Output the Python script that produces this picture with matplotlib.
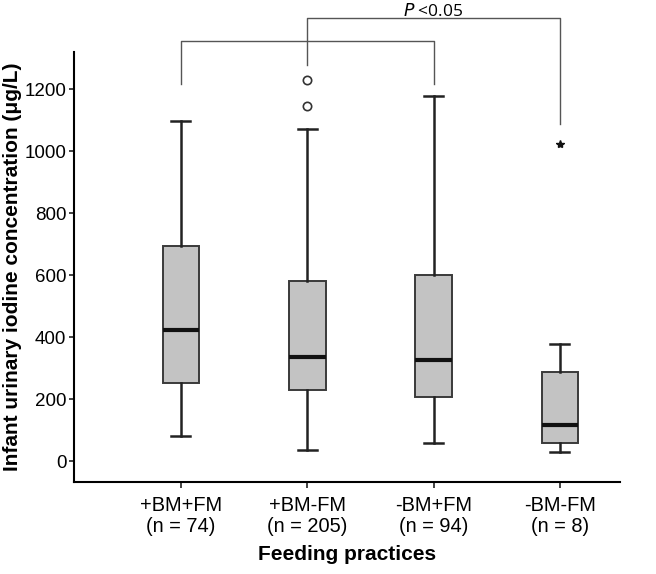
import matplotlib
matplotlib.use("Agg")
import matplotlib.pyplot as plt

# ── Datos ────────────────────────────────────────────────────────────────────
grupos = ["+BM+FM", "+BM-FM", "-BM+FM", "-BM-FM"]
n_grupo = [74, 205, 94, 8]
whisker_bajo = [82, 35, 57, 30]
q1 = [253, 228, 206, 58]
mediana = [422, 335, 328, 118]
q3 = [696, 581, 600, 288]
whisker_alto = [1097, 1073, 1180, 378]
atipicos = [[], [1145, 1230], [], []]
extremos = [[], [], [], [1025]]

plt.rcParams["font.family"] = ["Liberation Sans", "DejaVu Sans"]

fig = plt.figure(figsize=(6.56, 5.74), dpi=100)
ax = fig.add_axes([0.113, 0.160, 0.832, 0.749])

posiciones = list(range(1, len(grupos) + 1))
stats = []
for i in range(len(grupos)):
    stats.append(dict(
        whislo=whisker_bajo[i], q1=q1[i], med=mediana[i], q3=q3[i],
        whishi=whisker_alto[i], fliers=atipicos[i],
    ))

ax.bxp(
    stats, positions=posiciones, widths=0.29, patch_artist=True,
    showfliers=True,
    boxprops=dict(facecolor="#c3c3c3", edgecolor="#3a3a3a", linewidth=1.4),
    medianprops=dict(color="#111111", linewidth=3),
    whiskerprops=dict(color="#222222", linewidth=1.8),
    capprops=dict(color="#222222", linewidth=1.8),
    capwidths=0.15,
    flierprops=dict(marker="o", markerfacecolor="white", markeredgecolor="#333333",
                    markersize=6, markeredgewidth=1.2),
)

# valores extremos (estrella)
for p, vals in zip(posiciones, extremos):
    if vals:
        ax.plot([p] * len(vals), vals, linestyle="none", marker="*",
                color="#111111", markersize=6)

ax.set_xlim(0.155, 4.475)
ax.set_ylim(-68, 1320)
ax.set_yticks([0, 200, 400, 600, 800, 1000, 1200])
ax.set_xticks(posiciones)
ax.set_xticklabels([f"{g}\n(n = {n})" for g, n in zip(grupos, n_grupo)],
                   fontsize=14.4, linespacing=1.1)
ax.tick_params(axis="y", labelsize=13.5, length=3.5, width=1.2, color="#222222", pad=2)
ax.tick_params(axis="x", length=4, width=1.2, color="#222222", pad=6)
ax.spines[["top", "right"]].set_visible(False)
ax.spines["left"].set_linewidth(1.5)
ax.spines["bottom"].set_linewidth(1.5)

ax.set_ylabel("Infant urinary iodine concentration (\u03bcg/L)",
              fontsize=15, fontweight="bold", labelpad=2)
ax.set_xlabel("Feeding practices", fontsize=15, fontweight="bold", labelpad=7)

# ── Corchetes de comparación ─────────────────────────────────────────────────
gris = "#555555"
ax.plot([1, 1, 3, 3], [1218, 1355, 1355, 1218], color=gris, lw=1.0, clip_on=False)
ax.plot([2, 2, 4, 4], [1280, 1430, 1430, 1087], color=gris, lw=1.0, clip_on=False)
ax.text(3, 1452, r"$\it{P}$ <0.05", ha="center", va="center", fontsize=12.5,
        family="Open Sans", clip_on=False)

fig.savefig("out.png", dpi=100)
